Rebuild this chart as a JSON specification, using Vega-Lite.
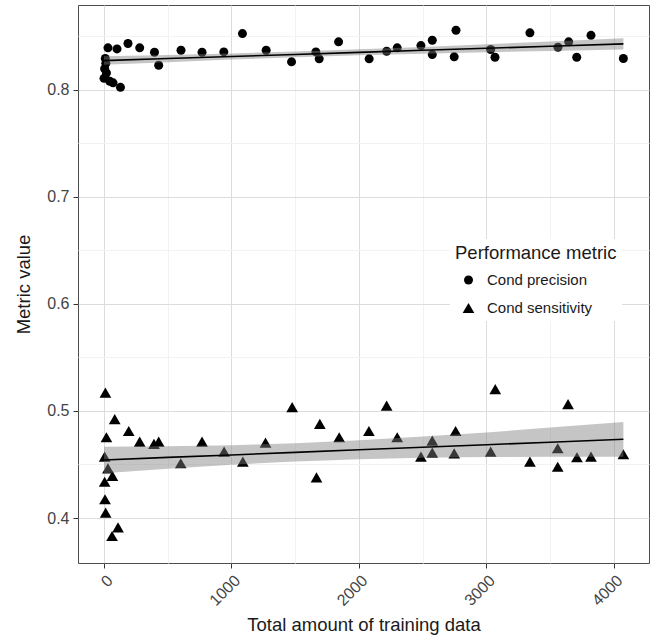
{
  "$schema": "https://vega.github.io/schema/vega-lite/v6.json",
  "width": 571,
  "height": 558,
  "autosize": {"type": "none"},
  "padding": {"left": 78, "top": 5, "right": 3, "bottom": 72},
  "background": "white",
  "config": {
    "font": "Liberation Sans",
    "view": {"stroke": "#4d4d4d", "strokeWidth": 1},
    "axis": {
      "labelFont": "Liberation Sans",
      "titleFont": "Liberation Sans",
      "labelFontSize": 16,
      "titleFontSize": 18.5,
      "titleFontWeight": "normal",
      "labelColor": "#444444",
      "titleColor": "#1a1a1a",
      "tickColor": "#333333",
      "tickSize": 5,
      "domain": false
    },
    "legend": {
      "fillColor": "white",
      "padding": 5,
      "titleFont": "Liberation Sans",
      "labelFont": "Liberation Sans",
      "titleFontSize": 18.5,
      "titleFontWeight": "normal",
      "titleColor": "#1a1a1a",
      "labelFontSize": 15,
      "labelColor": "#1a1a1a",
      "titlePadding": 10,
      "rowPadding": 12,
      "symbolOffset": 6,
      "labelOffset": 11,
      "symbolFillColor": "black",
      "symbolStrokeColor": "black",
      "symbolStrokeWidth": 0
    }
  },
  "datasets": {
    "pts": [
      {"x": 0, "value": 0.8105, "metric": "Cond precision"},
      {"x": 5, "value": 0.8195, "metric": "Cond precision"},
      {"x": 10, "value": 0.829, "metric": "Cond precision"},
      {"x": 14, "value": 0.8245, "metric": "Cond precision"},
      {"x": 19, "value": 0.8155, "metric": "Cond precision"},
      {"x": 45, "value": 0.8078, "metric": "Cond precision"},
      {"x": 71, "value": 0.8063, "metric": "Cond precision"},
      {"x": 129, "value": 0.8021, "metric": "Cond precision"},
      {"x": 31, "value": 0.839, "metric": "Cond precision"},
      {"x": 102, "value": 0.838, "metric": "Cond precision"},
      {"x": 188, "value": 0.843, "metric": "Cond precision"},
      {"x": 280, "value": 0.839, "metric": "Cond precision"},
      {"x": 396, "value": 0.8349, "metric": "Cond precision"},
      {"x": 429, "value": 0.8227, "metric": "Cond precision"},
      {"x": 604, "value": 0.8367, "metric": "Cond precision"},
      {"x": 769, "value": 0.8349, "metric": "Cond precision"},
      {"x": 940, "value": 0.8352, "metric": "Cond precision"},
      {"x": 1086, "value": 0.8523, "metric": "Cond precision"},
      {"x": 1272, "value": 0.8367, "metric": "Cond precision"},
      {"x": 1471, "value": 0.8259, "metric": "Cond precision"},
      {"x": 1662, "value": 0.8352, "metric": "Cond precision"},
      {"x": 1688, "value": 0.8287, "metric": "Cond precision"},
      {"x": 1840, "value": 0.8446, "metric": "Cond precision"},
      {"x": 2080, "value": 0.8287, "metric": "Cond precision"},
      {"x": 2217, "value": 0.8358, "metric": "Cond precision"},
      {"x": 2300, "value": 0.839, "metric": "Cond precision"},
      {"x": 2486, "value": 0.8411, "metric": "Cond precision"},
      {"x": 2575, "value": 0.8461, "metric": "Cond precision"},
      {"x": 2575, "value": 0.8327, "metric": "Cond precision"},
      {"x": 2761, "value": 0.8554, "metric": "Cond precision"},
      {"x": 2747, "value": 0.8306, "metric": "Cond precision"},
      {"x": 3033, "value": 0.8374, "metric": "Cond precision"},
      {"x": 3067, "value": 0.8302, "metric": "Cond precision"},
      {"x": 3341, "value": 0.853, "metric": "Cond precision"},
      {"x": 3561, "value": 0.8395, "metric": "Cond precision"},
      {"x": 3645, "value": 0.8446, "metric": "Cond precision"},
      {"x": 3708, "value": 0.8302, "metric": "Cond precision"},
      {"x": 3820, "value": 0.8507, "metric": "Cond precision"},
      {"x": 4074, "value": 0.829, "metric": "Cond precision"},
      {"x": 11, "value": 0.5171, "metric": "Cond sensitivity"},
      {"x": 84, "value": 0.4923, "metric": "Cond sensitivity"},
      {"x": 19, "value": 0.4754, "metric": "Cond sensitivity"},
      {"x": 5, "value": 0.4573, "metric": "Cond sensitivity"},
      {"x": 31, "value": 0.4464, "metric": "Cond sensitivity"},
      {"x": 66, "value": 0.4393, "metric": "Cond sensitivity"},
      {"x": 5, "value": 0.4339, "metric": "Cond sensitivity"},
      {"x": 8, "value": 0.4175, "metric": "Cond sensitivity"},
      {"x": 13, "value": 0.405, "metric": "Cond sensitivity"},
      {"x": 110, "value": 0.3913, "metric": "Cond sensitivity"},
      {"x": 63, "value": 0.3832, "metric": "Cond sensitivity"},
      {"x": 194, "value": 0.4813, "metric": "Cond sensitivity"},
      {"x": 280, "value": 0.4713, "metric": "Cond sensitivity"},
      {"x": 392, "value": 0.4692, "metric": "Cond sensitivity"},
      {"x": 429, "value": 0.4713, "metric": "Cond sensitivity"},
      {"x": 602, "value": 0.4511, "metric": "Cond sensitivity"},
      {"x": 769, "value": 0.4713, "metric": "Cond sensitivity"},
      {"x": 942, "value": 0.462, "metric": "Cond sensitivity"},
      {"x": 1089, "value": 0.4526, "metric": "Cond sensitivity"},
      {"x": 1267, "value": 0.4704, "metric": "Cond sensitivity"},
      {"x": 1476, "value": 0.5035, "metric": "Cond sensitivity"},
      {"x": 1667, "value": 0.4379, "metric": "Cond sensitivity"},
      {"x": 1693, "value": 0.4879, "metric": "Cond sensitivity"},
      {"x": 1845, "value": 0.4754, "metric": "Cond sensitivity"},
      {"x": 2078, "value": 0.4813, "metric": "Cond sensitivity"},
      {"x": 2217, "value": 0.505, "metric": "Cond sensitivity"},
      {"x": 2300, "value": 0.4754, "metric": "Cond sensitivity"},
      {"x": 2486, "value": 0.4573, "metric": "Cond sensitivity"},
      {"x": 2575, "value": 0.4722, "metric": "Cond sensitivity"},
      {"x": 2575, "value": 0.461, "metric": "Cond sensitivity"},
      {"x": 2758, "value": 0.4813, "metric": "Cond sensitivity"},
      {"x": 2747, "value": 0.4604, "metric": "Cond sensitivity"},
      {"x": 3033, "value": 0.462, "metric": "Cond sensitivity"},
      {"x": 3069, "value": 0.5203, "metric": "Cond sensitivity"},
      {"x": 3341, "value": 0.4526, "metric": "Cond sensitivity"},
      {"x": 3559, "value": 0.4651, "metric": "Cond sensitivity"},
      {"x": 3559, "value": 0.4479, "metric": "Cond sensitivity"},
      {"x": 3640, "value": 0.5063, "metric": "Cond sensitivity"},
      {"x": 3710, "value": 0.4567, "metric": "Cond sensitivity"},
      {"x": 3820, "value": 0.4573, "metric": "Cond sensitivity"},
      {"x": 4074, "value": 0.4595, "metric": "Cond sensitivity"}
    ],
    "fit": [
      {"x": 0, "fit": 0.8271, "lo": 0.8231, "hi": 0.8311, "metric": "Cond precision"},
      {"x": 500, "fit": 0.829, "lo": 0.8256, "hi": 0.8324, "metric": "Cond precision"},
      {"x": 1000, "fit": 0.8309, "lo": 0.828, "hi": 0.8338, "metric": "Cond precision"},
      {"x": 1500, "fit": 0.8328, "lo": 0.8301, "hi": 0.8355, "metric": "Cond precision"},
      {"x": 2000, "fit": 0.8348, "lo": 0.832, "hi": 0.8376, "metric": "Cond precision"},
      {"x": 2500, "fit": 0.8367, "lo": 0.8335, "hi": 0.8399, "metric": "Cond precision"},
      {"x": 3000, "fit": 0.8386, "lo": 0.8349, "hi": 0.8423, "metric": "Cond precision"},
      {"x": 3500, "fit": 0.8405, "lo": 0.8361, "hi": 0.8449, "metric": "Cond precision"},
      {"x": 4074, "fit": 0.8427, "lo": 0.8375, "hi": 0.8479, "metric": "Cond precision"},
      {"x": 0, "fit": 0.4542, "lo": 0.4419, "hi": 0.4665, "metric": "Cond sensitivity"},
      {"x": 500, "fit": 0.4566, "lo": 0.4461, "hi": 0.4671, "metric": "Cond sensitivity"},
      {"x": 1000, "fit": 0.4589, "lo": 0.4498, "hi": 0.468, "metric": "Cond sensitivity"},
      {"x": 1500, "fit": 0.4613, "lo": 0.4528, "hi": 0.4698, "metric": "Cond sensitivity"},
      {"x": 2000, "fit": 0.4637, "lo": 0.4549, "hi": 0.4725, "metric": "Cond sensitivity"},
      {"x": 2500, "fit": 0.4661, "lo": 0.4562, "hi": 0.476, "metric": "Cond sensitivity"},
      {"x": 3000, "fit": 0.4684, "lo": 0.4569, "hi": 0.4799, "metric": "Cond sensitivity"},
      {"x": 3500, "fit": 0.4708, "lo": 0.4572, "hi": 0.4844, "metric": "Cond sensitivity"},
      {"x": 4074, "fit": 0.4735, "lo": 0.4573, "hi": 0.4897, "metric": "Cond sensitivity"}
    ]
  },
  "layer": [
    {
      "data": {"name": "pts"},
      "mark": {"type": "point", "opacity": 0},
      "encoding": {
        "x": {"field": "x", "type": "quantitative", "scale": {"domain": [-204, 4275], "nice": false, "zero": false},
          "axis": {"orient": "bottom", "values": [500, 1500, 2500, 3500], "grid": true, "gridColor": "#f2f2f2", "gridWidth": 1, "labels": false, "ticks": false, "domain": false, "title": null}},
        "y": {"field": "value", "type": "quantitative", "scale": {"domain": [0.358, 0.879], "nice": false, "zero": false},
          "axis": {"orient": "left", "values": [0.45, 0.55, 0.65, 0.75, 0.85], "grid": true, "gridColor": "#f2f2f2", "gridWidth": 1, "labels": false, "ticks": false, "domain": false, "title": null}}
      }
    },
    {
      "data": {"name": "pts"},
      "mark": {"type": "point", "filled": true, "opacity": 1, "color": "black"},
      "encoding": {
        "x": {"field": "x", "type": "quantitative", "scale": {"domain": [-204, 4275], "nice": false, "zero": false},
          "axis": {"orient": "bottom", "values": [0, 1000, 2000, 3000, 4000], "format": "d", "grid": true, "gridColor": "#dcdcdc", "labelAngle": -45, "labelPadding": 4, "title": "Total amount of training data", "titlePadding": 7}},
        "y": {"field": "value", "type": "quantitative", "scale": {"domain": [0.358, 0.879], "nice": false, "zero": false},
          "axis": {"orient": "left", "values": [0.4, 0.5, 0.6, 0.7, 0.8], "format": ".1f", "grid": true, "gridColor": "#dcdcdc", "labelPadding": 4, "title": "Metric value", "titlePadding": 13}},
        "shape": {"field": "metric", "type": "nominal", "scale": {"domain": ["Cond precision", "Cond sensitivity"], "range": ["circle", "triangle-up"]},
          "legend": {"title": "Performance metric", "orient": "none", "legendX": 372, "legendY": 234}},
        "size": {"field": "metric", "type": "nominal", "scale": {"domain": ["Cond precision", "Cond sensitivity"], "range": [81, 137]},
          "legend": {"title": "Performance metric", "orient": "none", "legendX": 372, "legendY": 234}}
      }
    },
    {
      "data": {"name": "fit"},
      "mark": {"type": "area", "color": "#7f7f7f", "opacity": 0.45},
      "encoding": {
        "x": {"field": "x", "type": "quantitative", "scale": {"domain": [-204, 4275], "nice": false, "zero": false}, "axis": null},
        "y": {"field": "lo", "type": "quantitative", "scale": {"domain": [0.358, 0.879], "nice": false, "zero": false}, "axis": null},
        "y2": {"field": "hi"},
        "detail": {"field": "metric", "type": "nominal"}
      }
    },
    {
      "data": {"name": "fit"},
      "mark": {"type": "line", "color": "black", "strokeWidth": 1.6},
      "encoding": {
        "x": {"field": "x", "type": "quantitative", "scale": {"domain": [-204, 4275], "nice": false, "zero": false}, "axis": null},
        "y": {"field": "fit", "type": "quantitative", "scale": {"domain": [0.358, 0.879], "nice": false, "zero": false}, "axis": null},
        "detail": {"field": "metric", "type": "nominal"}
      }
    }
  ],
  "resolve": {"axis": {"x": "independent", "y": "independent"}}
}
